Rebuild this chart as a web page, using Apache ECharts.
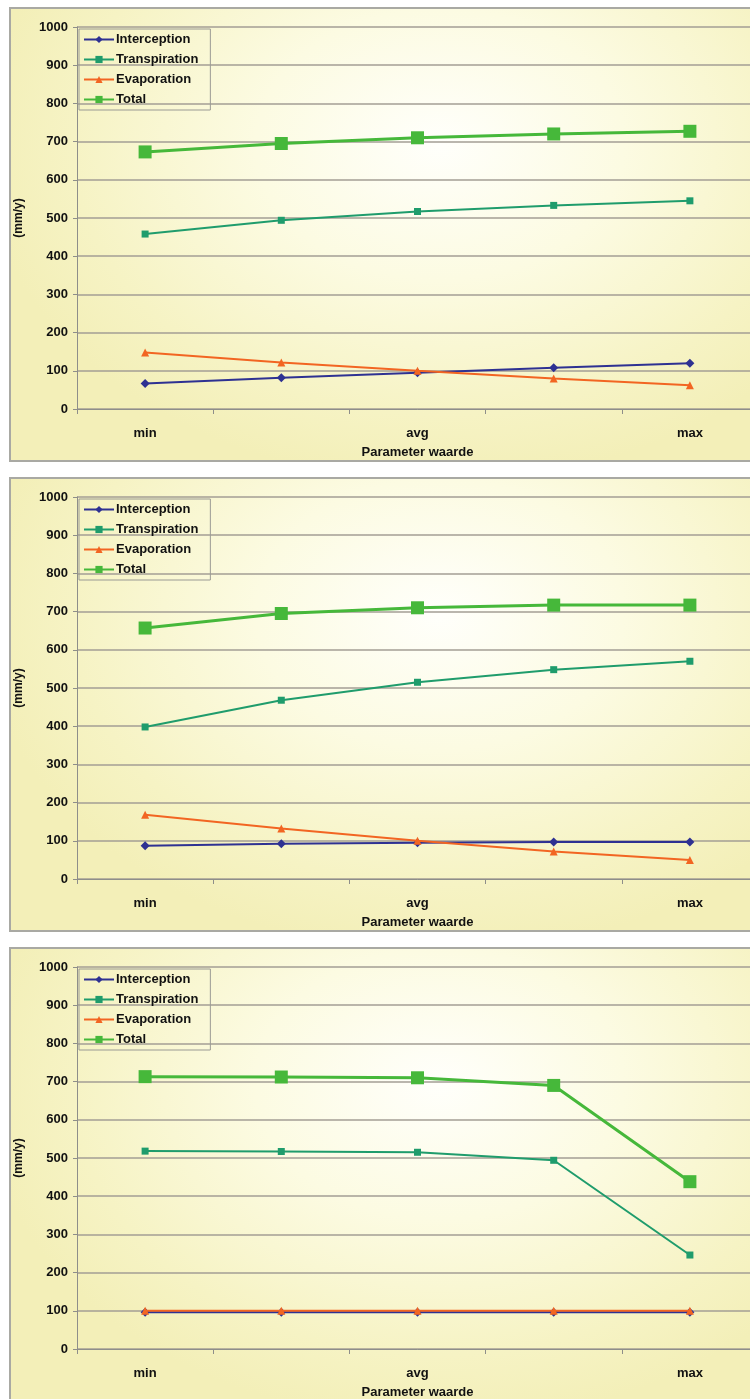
<!DOCTYPE html>
<html>
<head>
<meta charset="utf-8">
<script src="https://cdn.jsdelivr.net/npm/echarts@6/dist/echarts.min.js"></script>
<style>
  html, body { margin: 0; padding: 0; width: 750px; height: 1399px; overflow: hidden; background: #fff; }
  .panel {
    position: absolute;
    left: 9px;
    width: 770px;
    height: 455px;
    border: 2px solid #a9a9a3;
    box-sizing: border-box;
    background: radial-gradient(ellipse 60% 75% at 56% 30%, #fffffb 0%, #fcfbe2 40%, #f6f3c4 80%, #f3efb8 100%);
  }
</style>
</head>
<body>
<div class="panel" id="c1" style="top:7px"></div>
<div class="panel" id="c2" style="top:477px"></div>
<div class="panel" id="c3" style="top:947px"></div>
<script>
var categories = ['min', '', 'avg', '', 'max'];
var seriesNames = ['Interception', 'Transpiration', 'Evaporation', 'Total'];

// panel 1
var interception1 = [67, 82, 95, 108, 120];
var transpiration1 = [458, 494, 517, 533, 545];
var evaporation1 = [148, 122, 100, 80, 62];
var total1 = [673, 695, 710, 720, 727];

// panel 2
var interception2 = [87, 92, 95, 97, 97];
var transpiration2 = [398, 468, 515, 548, 570];
var evaporation2 = [168, 132, 100, 72, 50];
var total2 = [657, 695, 710, 717, 717];

// panel 3
var interception3 = [96, 96, 96, 96, 96];
var transpiration3 = [518, 517, 515, 494, 246];
var evaporation3 = [100, 100, 100, 100, 100];
var total3 = [713, 712, 710, 690, 438];

var font = 'Liberation Sans, Arial, sans-serif';

function makeOption(inter, transp, evap, tot) {
    return {
        animation: false,
        textStyle: { fontFamily: font },
        legend: {
            orient: 'vertical',
            left: 68,
            top: 20,
            padding: [4, 12, 4, 4],
            itemWidth: 30,
            itemHeight: 9,
            itemGap: 7,
            borderColor: '#9a9a94',
            borderWidth: 1,
            backgroundColor: 'transparent',
            textStyle: { fontFamily: font, fontWeight: 'bold', fontSize: 13, color: '#111', padding: [0, 0, 0, -3] },
            data: seriesNames
        },
        grid: { left: 66, top: 18, width: 681, height: 382, outerBoundsMode: 'none' },
        xAxis: {
            type: 'category',
            data: categories,
            boundaryGap: true,
            name: 'Parameter waarde',
            nameLocation: 'middle',
            nameGap: 37,
            nameTextStyle: { fontFamily: font, fontWeight: 'bold', fontSize: 13, color: '#111' },
            axisLine: { lineStyle: { color: '#8e8e8a', width: 1 } },
            axisTick: { show: true, interval: 0, length: 5, lineStyle: { color: '#8e8e8a' } },
            axisLabel: { interval: 0, margin: 18, fontFamily: font, fontWeight: 'bold', fontSize: 13, color: '#111' },
            splitLine: { show: false }
        },
        yAxis: {
            type: 'value',
            min: 0,
            max: 1000,
            interval: 100,
            name: '(mm/y)',
            nameLocation: 'middle',
            nameRotate: 90,
            nameGap: 52,
            nameTextStyle: { fontFamily: font, fontWeight: 'bold', fontSize: 12, color: '#111' },
            axisLine: { show: true, lineStyle: { color: '#8e8e8a', width: 1 } },
            axisTick: { show: true, length: 4, lineStyle: { color: '#8e8e8a' } },
            axisLabel: {
                margin: 9, fontFamily: font, fontWeight: 'bold', fontSize: 13, color: '#111',
                formatter: function (v) { return String(v); }
            },
            splitLine: { lineStyle: { color: '#a39e95', width: 1.5 } }
        },
        series: [
            {
                name: 'Interception', type: 'line', data: inter,
                symbol: 'diamond', symbolSize: 9,
                lineStyle: { color: '#2e3192', width: 2 },
                itemStyle: { color: '#2e3192' }, z: 2
            },
            {
                name: 'Transpiration', type: 'line', data: transp,
                symbol: 'rect', symbolSize: 7,
                lineStyle: { color: '#1f9c6c', width: 2 },
                itemStyle: { color: '#1f9c6c' }, z: 3
            },
            {
                name: 'Evaporation', type: 'line', data: evap,
                symbol: 'triangle', symbolSize: 8,
                lineStyle: { color: '#f26522', width: 2 },
                itemStyle: { color: '#f26522' }, z: 3
            },
            {
                name: 'Total', type: 'line', data: tot,
                symbol: 'rect', symbolSize: 13,
                lineStyle: { color: '#46b83a', width: 3 },
                itemStyle: { color: '#46b83a' }, z: 4
            }
        ]
    };
}

var chart1 = echarts.init(document.getElementById('c1'));
chart1.setOption(makeOption(interception1, transpiration1, evaporation1, total1));
var chart2 = echarts.init(document.getElementById('c2'));
chart2.setOption(makeOption(interception2, transpiration2, evaporation2, total2));
var chart3 = echarts.init(document.getElementById('c3'));
chart3.setOption(makeOption(interception3, transpiration3, evaporation3, total3));
</script>
</body>
</html>
